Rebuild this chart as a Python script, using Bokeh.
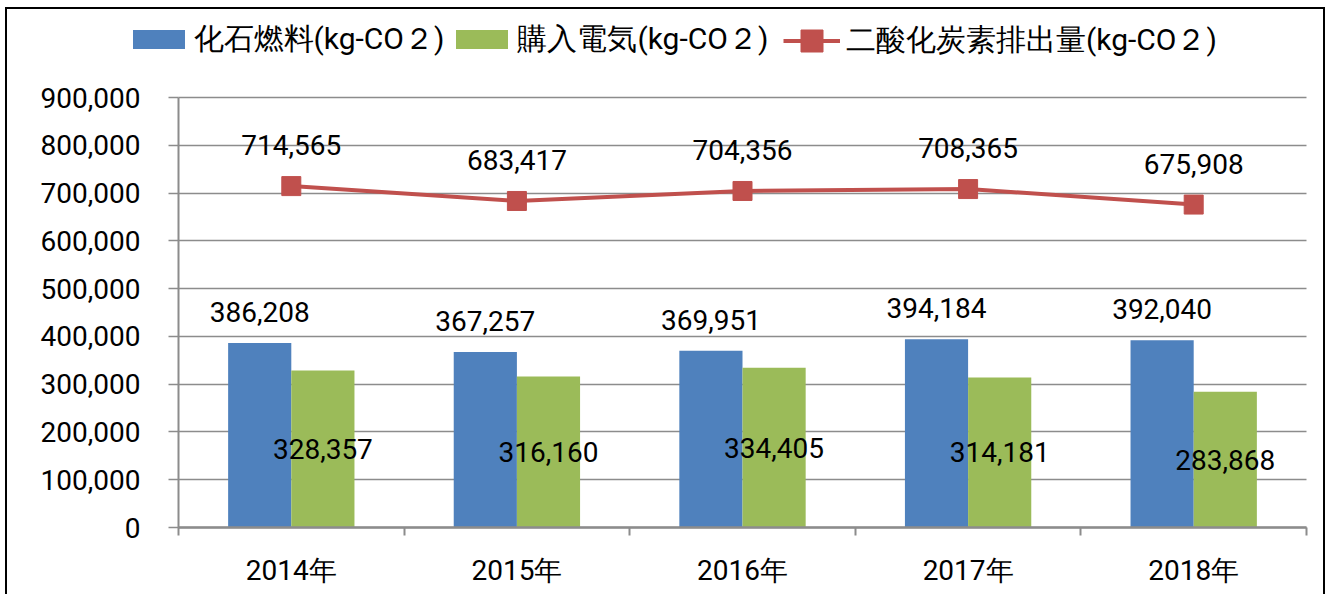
from bokeh.plotting import figure
from bokeh.models import (ColumnDataSource, Range1d, FixedTicker, NumeralTickFormatter,
                          Legend, LegendItem)
from bokeh.core.properties import value
from bokeh.embed import file_html
from bokeh.resources import INLINE

# ---- data ----
years = ["2014年", "2015年", "2016年", "2017年", "2018年"]
fossil = [386208, 367257, 369951, 394184, 392040]
electric = [328357, 316160, 334405, 314181, 283868]
total = [714565, 683417, 704356, 708365, 675908]
y_ticks = [0, 100000, 200000, 300000, 400000, 500000, 600000, 700000, 800000, 900000]
series_names = ["化石燃料(kg-CO２)", "購入電気(kg-CO２)", "二酸化炭素排出量(kg-CO２)"]

BLUE = "#4F81BD"
GREEN = "#9BBB59"
RED = "#C0504D"
GRID = "#8c8c8c"
FONT = "Roboto"

# ---- layout (pixels) ----
W, H = 1320, 587           # canvas size (inside the border)
PLOT_L, PLOT_R = 171, 1299  # plot area in canvas px
PLOT_T, PLOT_B = 88, 518
YMAX = y_ticks[-1]
NCAT = len(years)
kx = (PLOT_R - PLOT_L) / NCAT
ky = (PLOT_B - PLOT_T) / YMAX
x_range = Range1d(-PLOT_L / kx, NCAT + (W - PLOT_R) / kx)
y_range = Range1d(-(H - PLOT_B) / ky, YMAX + PLOT_T / ky)

centers = [i + 0.5 for i in range(NCAT)]
src = ColumnDataSource(dict(
    c=centers,
    xb=[c - 0.14 for c in centers],
    xg=[c + 0.14 for c in centers],
    fossil=fossil,
    electric=electric,
    ehalf=[v / 2 for v in electric],
    total=total,
    lf=[f"{v:,}" for v in fossil],
    le=[f"{v:,}" for v in electric],
    lt=[f"{v:,}" for v in total],
))

p = figure(width=W, height=H, output_backend="svg", toolbar_location=None,
           x_range=x_range, y_range=y_range, min_border=0)
p.styles = {"border": "2px solid black", "border-bottom": "none",
            "margin-left": "5px", "margin-top": "7px"}
p.outline_line_color = None
p.background_fill_color = "white"
p.border_fill_color = "white"

# axes (placed inside the frame at fixed data locations)
p.xgrid.visible = False
p.yaxis.fixed_location = 0
p.yaxis.bounds = (0, YMAX)
p.yaxis.ticker = FixedTicker(ticks=y_ticks)
g = p.ygrid[0]
g.grid_line_color = GRID
g.grid_line_width = 1.5
if "cross_bounds" in g.properties():
    g.cross_bounds = (0, NCAT)
    g.bounds = (0, YMAX)
p.yaxis.formatter = NumeralTickFormatter(format="0,0")
p.yaxis.axis_line_color = GRID
p.yaxis.axis_line_width = 2
p.yaxis.major_tick_line_color = GRID
p.yaxis.major_tick_line_width = 1.5
p.yaxis.major_tick_out = 10
p.yaxis.major_tick_in = 0
p.yaxis.minor_tick_line_color = None
p.yaxis.major_label_standoff = 28
p.yaxis.major_label_text_font = FONT
p.yaxis.major_label_text_font_size = "28px"
p.yaxis.major_label_text_color = "black"

p.xaxis.fixed_location = 0
p.xaxis.bounds = (0, NCAT)
p.xaxis.ticker = FixedTicker(ticks=centers, minor_ticks=list(range(NCAT + 1)))
p.xaxis.major_label_overrides = {c: y for c, y in zip(centers, years)}
p.xaxis.axis_line_color = GRID
p.xaxis.axis_line_width = 2.5
p.xaxis.major_tick_line_color = None
p.xaxis.major_tick_out = 0
p.xaxis.major_tick_in = 0
p.xaxis.minor_tick_line_color = GRID
p.xaxis.minor_tick_line_width = 2
p.xaxis.minor_tick_out = 8
p.xaxis.minor_tick_in = 0
p.xaxis.major_label_standoff = 18
p.xaxis.major_label_text_font = FONT
p.xaxis.major_label_text_font_size = "28px"
p.xaxis.major_label_text_color = "black"

# bars
rb = p.vbar(x="xb", top="fossil", width=0.28, source=src, fill_color=BLUE, line_color=None)
rg = p.vbar(x="xg", top="electric", width=0.28, source=src, fill_color=GREEN, line_color=None)
# line
rl = p.line(x="c", y="total", source=src, line_color=RED, line_width=4)
rs = p.scatter(x="c", y="total", source=src, marker="square", size=19,
               fill_color=RED, line_color=RED)

# data labels
common = dict(text_font=value(FONT), text_font_size="28px", text_color="black",
              text_align="center", text_baseline="middle")
p.text(x="xb", y="fossil", text="lf", source=src, y_offset=-31, **common)
p.text(x="xg", y="ehalf", text="le", source=src, **common)
p.text(x="c", y="total", text="lt", source=src, y_offset=-41, **common)

# legends
leg_common = dict(orientation="horizontal", padding=0, margin=0, border_line_color=None,
                  background_fill_alpha=0, label_text_font=FONT, label_text_font_size="30px",
                  label_text_color="black")
legA = Legend(items=[LegendItem(label=series_names[0], renderers=[rb]),
                     LegendItem(label=series_names[1], renderers=[rg])],
              glyph_width=65, glyph_height=24, label_height=24, label_standoff=3, spacing=5,
              location=(118.5, H - 50.5), **leg_common)
legB = Legend(items=[LegendItem(label=series_names[2], renderers=[rl, rs])],
              glyph_width=57, glyph_height=55, label_height=24, label_standoff=6, spacing=5,
              location=(776, H - 58.5), **leg_common)
p.add_layout(legA, "center")
p.add_layout(legB, "center")

open("out.html", "w").write(file_html(p, INLINE))
